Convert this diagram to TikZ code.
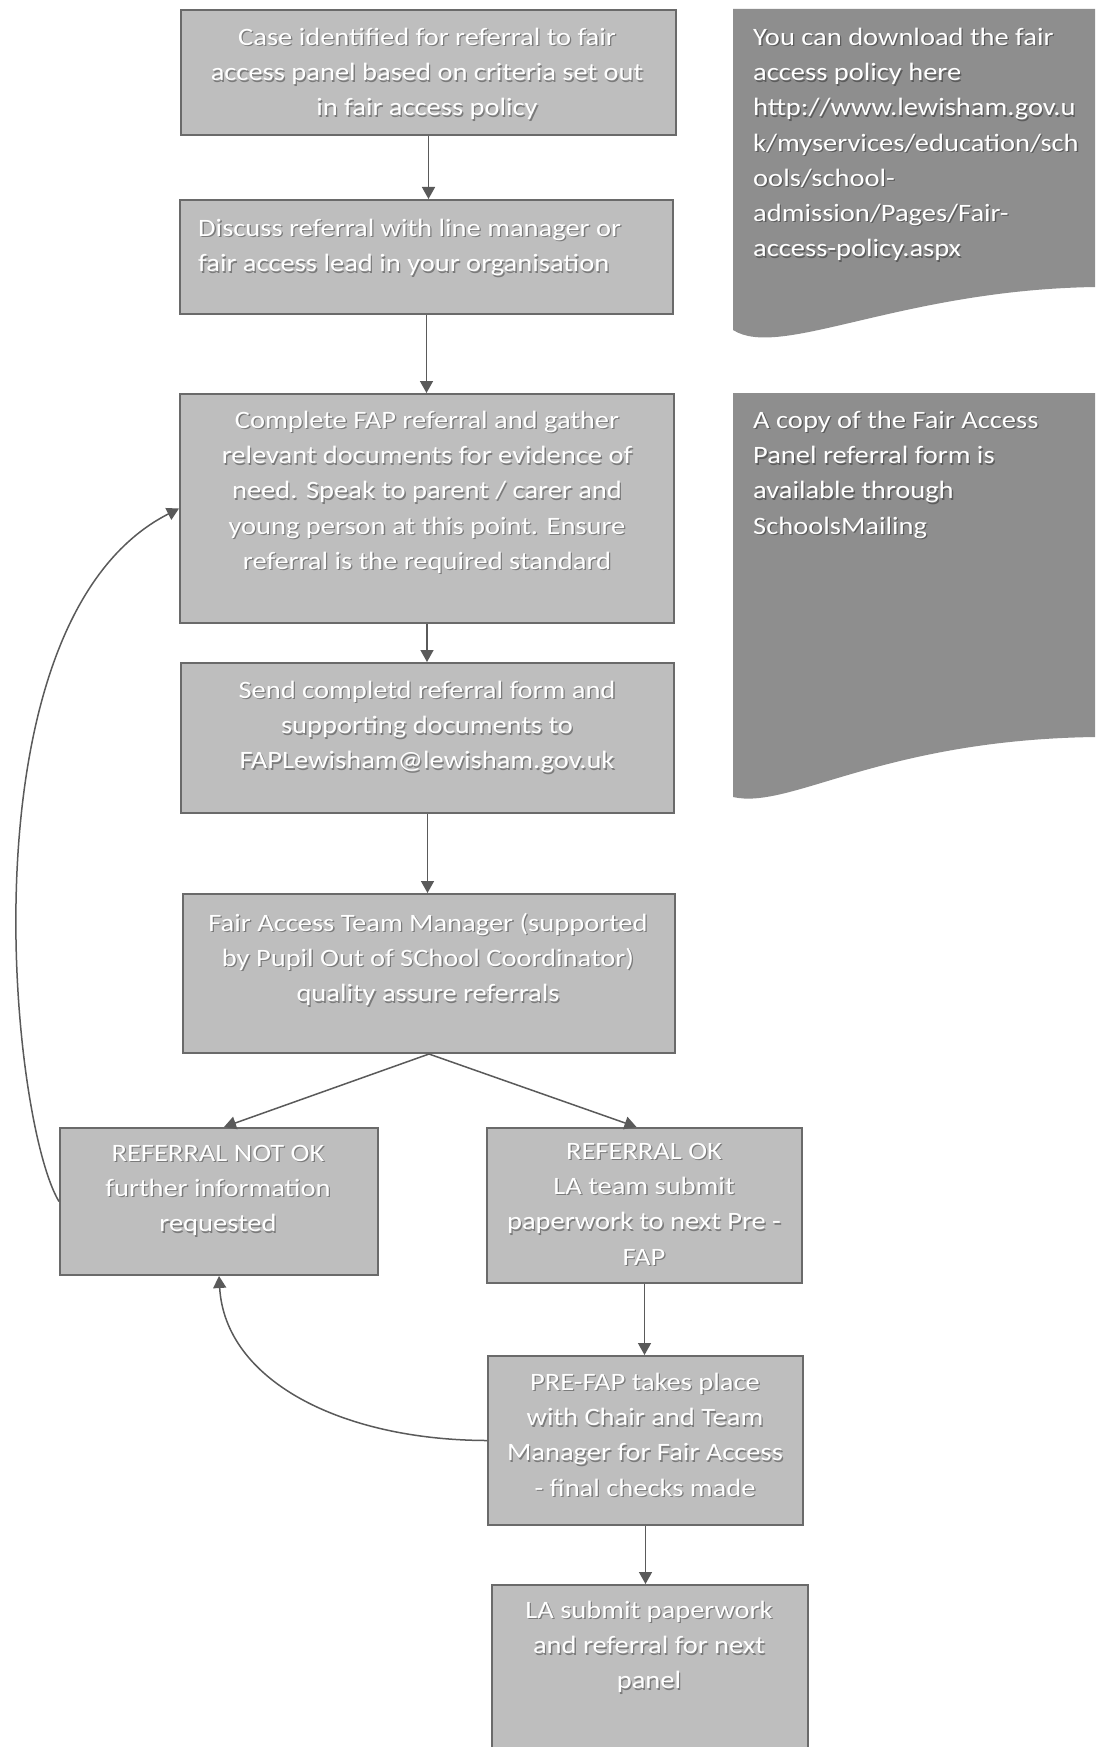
\documentclass[tikz,border=0pt]{standalone}
\usepackage{fontspec}
\setmainfont{Carlito}[FakeStretch=1.14]
\usetikzlibrary{arrows.meta}
\definecolor{boxfill}{HTML}{BEBEBE}
\definecolor{boxline}{HTML}{6A6A6A}
\definecolor{docfill}{HTML}{8E8E8E}
\definecolor{linkcol}{HTML}{5A5A5A}
% white text with a soft dark shadow underneath
\newcommand{\shtext}[4]{%
  \node[#1, text=black, text opacity=0.35, shift={(1.3,1.3)}] (#2s) at (#3) {#4};
  \node[#1] (#2) at (#3) {#4};}
\begin{document}
\begin{tikzpicture}[x=1pt,y=-1pt,
  stepbox/.style={draw=boxline, line width=2pt, fill=boxfill, inner sep=0pt, anchor=north west},
  txt/.style={text=white, font=\fontsize{25}{35.2}\selectfont, inner sep=0pt,
              execute at begin node=\rule{0pt}{25pt}},
  ctxt/.style={txt, align=center, anchor=north},
  ltxt/.style={txt, align=left, anchor=north west},
  link/.style={draw=linkcol, line width=1.5pt, -{Triangle[length=12pt,width=13pt]}},
]
\useasboundingbox (0,0) rectangle (1095,1747);
\fill[white] (0,0) rectangle (1095,1747);
\clip (0,0) rectangle (1095,1747);

% side notes (document shapes running off the right edge)
\fill[docfill] (733,9) -- (1110,9) -- (1110,287) -- (1095,287)
  .. controls (900,290) and (780,360) .. (733,330) -- cycle;
\fill[docfill] (733,393) -- (1110,393) -- (1110,737) -- (1095,737)
  .. controls (880,740) and (790,810) .. (733,797) -- cycle;
\shtext{ltxt}{d1t}{753,28}{You can download the fair\\access policy here\\http://www.lewisham.gov.u\\k/myservices/education/sch\\ools/school-\\admission/Pages/Fair-\\access-policy.aspx}
\shtext{ltxt}{d2t}{753,411}{A copy of the Fair Access\\Panel referral form is\\available through\\SchoolsMailing}

% process boxes
\node[stepbox, minimum width=495, minimum height=125] (b1) at (180,9) {};
\node[stepbox, minimum width=493, minimum height=114] (b2) at (179,199) {};
\node[stepbox, minimum width=494, minimum height=229] (b3) at (179,393) {};
\node[stepbox, minimum width=493, minimum height=150] (b4) at (180,662) {};
\node[stepbox, minimum width=492, minimum height=159] (b5) at (182,893) {};
\node[stepbox, minimum width=318, minimum height=147] (nok) at (59,1127) {};
\node[stepbox, minimum width=315, minimum height=155] (ok) at (486,1127) {};
\node[stepbox, minimum width=315, minimum height=169] (pre) at (487,1355) {};
\node[stepbox, minimum width=316, minimum height=190] (la) at (491,1584) {};

% box texts
\shtext{ctxt}{b1t}{427,28}{Case identified for referral to fair\\access panel based on criteria set out\\in fair access policy}
\shtext{ltxt}{b2t}{198,219}{Discuss referral with line manager or\\fair access lead in your organisation}
\shtext{ctxt}{b3t}{427,411}{Complete FAP referral and gather\\relevant documents for evidence of\\need. Speak to parent / carer and\\young person at this point. Ensure\\referral is the required standard}
\shtext{ctxt}{b4t}{427,681}{Send completd referral form and\\supporting documents to\\FAPLewisham@lewisham.gov.uk}
\shtext{ctxt}{b5t}{428,913}{Fair Access Team Manager (supported\\by Pupil Out of SChool Coordinator)\\quality assure referrals}
\shtext{ctxt}{nokt}{218,1145}{REFERRAL NOT OK\\further information\\requested}
\shtext{ctxt}{okt}{644,1143}{REFERRAL OK\\LA team submit\\paperwork to next Pre -\\FAP}
\shtext{ctxt}{pret}{645,1373}{PRE-FAP takes place\\with Chair and Team\\Manager for Fair Access\\- final checks made}
\shtext{ctxt}{lat}{649,1601}{LA submit paperwork\\and referral for next\\panel}

% connectors
\draw[link] (b1.south) -- (b1.south |- b2.north);
\draw[link] (b2.south) -- (b2.south |- b3.north);
\draw[link] (b3.south) -- (b3.south |- b4.north);
\draw[link] (b4.south) -- (b4.south |- b5.north);
\draw[link] (b5.south) -- ([xshift=5pt]nok.north);
\draw[link] (b5.south) -- ([xshift=-8pt]ok.north);
\draw[link] (ok.south) -- (ok.south |- pre.north);
\draw[link] (pre.south) -- (pre.south |- la.north);
\draw[link] (pre.west) .. controls (340,1440) and (225,1380) .. (nok.south);
\draw[link] (nok.west) .. controls (10,1120) and (-40,620) .. (b3.west);
\end{tikzpicture}
\end{document}
